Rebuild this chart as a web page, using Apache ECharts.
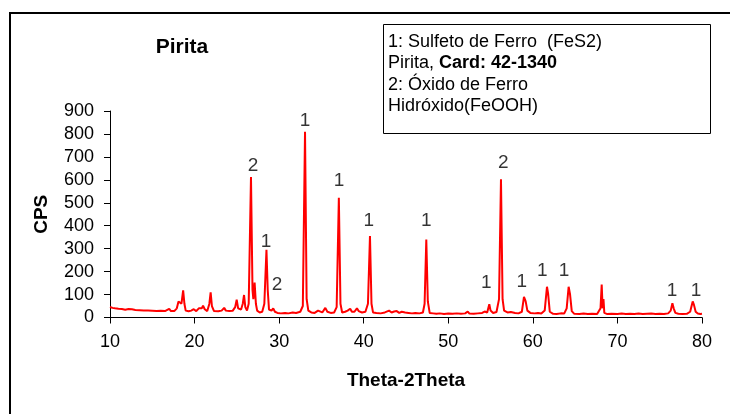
<!DOCTYPE html>
<html>
<head>
<meta charset="utf-8">
<script src="https://cdn.jsdelivr.net/npm/echarts@6/dist/echarts.min.js"></script>
<style>
html,body{margin:0;padding:0;background:#fff;}
#chart{width:730px;height:414px;}
</style>
</head>
<body>
<div id="chart"></div>
<script>
const twoTheta = [10.0,10.3,10.6,11.0,11.4,11.8,12.2,12.6,13.0,13.5,14.0,14.5,15.0,15.5,16.0,16.5,17.0,17.2,17.6,17.9,18.1,18.25,18.45,18.65,18.8,18.95,19.3,19.6,19.9,20.2,20.5,20.7,20.85,21.0,21.2,21.5,21.75,21.9,22.05,22.3,22.8,23.2,23.5,23.7,24.1,24.5,24.8,24.98,25.15,25.35,25.5,25.7,25.85,26.0,26.2,26.4,26.67,26.85,26.95,27.1,27.25,27.4,27.7,28.0,28.25,28.5,28.65,28.8,29.1,29.3,29.5,29.8,30.2,30.7,31.1,31.6,32.0,32.5,32.8,33.06,33.25,33.45,33.6,33.8,34.2,34.6,34.8,35.1,35.46,35.7,36.1,36.5,36.8,37.06,37.25,37.45,37.8,38.1,38.4,38.6,38.9,39.2,39.4,39.8,40.2,40.5,40.74,40.92,41.1,41.5,42.0,42.5,43.0,43.3,43.6,43.9,44.2,44.5,44.7,44.9,45.3,45.7,46.1,46.6,47.0,47.2,47.4,47.58,47.8,48.2,48.6,49.0,49.5,50.0,50.5,51.0,51.5,52.0,52.3,52.5,53.0,53.5,54.0,54.3,54.6,54.85,55.0,55.3,55.7,56.0,56.23,56.42,56.6,57.0,57.4,57.6,57.9,58.3,58.7,58.95,59.15,59.35,59.7,60.2,60.6,61.0,61.4,61.67,61.8,62.0,62.4,62.8,63.3,63.7,64.0,64.23,64.4,64.6,64.9,65.5,66.0,66.5,67.0,67.6,68.0,68.14,68.25,68.35,68.45,68.8,69.3,70.0,70.5,71.0,71.5,72.0,72.5,73.0,73.5,74.0,74.5,75.0,75.5,76.0,76.3,76.5,76.65,76.85,77.2,77.7,78.2,78.6,78.9,79.05,79.25,79.5,79.8,80.0];
const cps = [46,42,40,38,37,34,37,36,33,32,31,30,29,28,29,28,38,28,28,40,70,62,60,118,60,30,27,30,36,28,40,48,40,52,36,28,60,110,50,28,27,30,42,30,28,29,45,78,40,40,35,60,98,45,30,60,612,120,80,152,60,30,22,25,60,295,120,35,30,40,25,20,18,20,18,22,20,25,50,810,80,30,36,22,20,30,28,22,42,25,20,22,45,522,60,22,25,30,38,25,25,40,28,22,25,60,355,60,22,20,18,22,30,22,26,28,20,25,33,22,20,18,20,18,22,60,340,70,20,18,16,18,15,17,16,18,16,18,26,17,16,18,20,26,22,58,30,20,24,80,603,80,30,22,24,30,20,18,25,90,70,30,20,18,20,17,30,134,105,25,16,15,18,17,40,134,100,28,16,15,17,15,16,15,40,144,40,80,20,15,16,15,17,15,16,15,17,15,16,17,15,16,15,18,30,62,40,20,16,15,16,25,70,55,25,17,15,16];

// peak identification labels
const peakLabelX = [26.9,28.45,29.75,33.05,37.07,40.6,47.4,54.5,56.5,58.7,61.1,63.7,76.45,79.3];
const peakLabelY = [663,328,141,859,598,420,420,150,676,154,202,202,115,115];
const peakLabelText = ['2','1','2','1','1','1','1','1','2','1','1','1','1','1'];

const xTicks = [10,20,30,40,50,60,70,80];
const yTicks = [0,100,200,300,400,500,600,700,800,900];

const FONT = '"Liberation Sans", Arial, sans-serif';
const chart = echarts.init(document.getElementById('chart'), null, {renderer:'canvas'});

const lineData = twoTheta.map((x,i)=>[x,cps[i]]);
const labelData = peakLabelX.map((x,i)=>({value:[x,peakLabelY[i]], label:{formatter:peakLabelText[i]}}));

chart.setOption({
  animation:false,
  backgroundColor:'#fff',
  grid:{left:110, right:28, top:111, bottom:96.5},
  xAxis:{
    type:'value', min:xTicks[0], max:xTicks[xTicks.length-1], interval:10,
    name:'Theta-2Theta', nameLocation:'middle', nameGap:63,
    nameTextStyle:{fontFamily:FONT, fontSize:19, fontWeight:'bold', color:'#000', verticalAlign:'middle', align:'center'},
    axisLine:{lineStyle:{color:'#000', width:1}},
    axisTick:{show:true, inside:false, length:6, lineStyle:{color:'#000'}},
    axisLabel:{fontFamily:FONT, fontSize:18, color:'#000', margin:16},
    splitLine:{show:false}
  },
  yAxis:{
    type:'value', min:yTicks[0], max:yTicks[yTicks.length-1], interval:100,
    name:'CPS', nameLocation:'middle', nameGap:68, nameRotate:90,
    nameTextStyle:{fontFamily:FONT, fontSize:19, fontWeight:'bold', color:'#000', verticalAlign:'middle', align:'center'},
    axisLine:{show:true, lineStyle:{color:'#000', width:1}},
    axisTick:{show:true, inside:false, length:6, lineStyle:{color:'#000'}},
    axisLabel:{fontFamily:FONT, fontSize:18, color:'#000', margin:16},
    splitLine:{show:false}
  },
  series:[
    {type:'line', data:lineData, symbol:'none', lineStyle:{color:'#ff0000', width:2}, z:3},
    {type:'scatter', data:labelData, symbolSize:0, silent:true,
     label:{show:true, position:'inside', fontFamily:FONT, fontSize:19, color:'#000'}, z:4}
  ],
  graphic:[
    {type:'rect', shape:{x:10, y:13, width:760, height:460}, style:{fill:'none', stroke:'#000', lineWidth:2}, z:-1},
    {type:'rect', shape:{x:383.5, y:24.5, width:327, height:109}, style:{fill:'#fff', stroke:'#000', lineWidth:1}, z:10},
    {type:'text', x:182, y:47, z:11, style:{text:'Pirita', font:'bold 21px '+FONT, fill:'#000', align:'center', verticalAlign:'middle'}},
    {type:'text', x:388, y:31, z:11, style:{
      text:'1: Sulfeto de Ferro  (FeS2)\nPirita, {b|Card: 42-1340}\n2: Óxido de Ferro\nHidróxido(FeOOH)',
      font:'18px '+FONT, fill:'#000', lineHeight:21.5, verticalAlign:'top', align:'left',
      rich:{b:{fontWeight:'bold', fontSize:18, fontFamily:FONT, fill:'#000', lineHeight:21.5}}
    }}
  ]
});
</script>
</body>
</html>
